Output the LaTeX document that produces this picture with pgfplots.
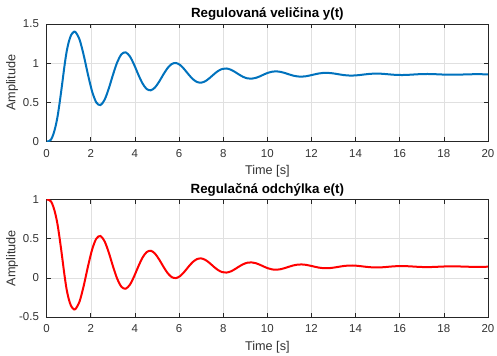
\documentclass[border=0pt]{standalone}
\usepackage{pgfplots}
\pgfplotsset{compat=1.18}
\usepackage{pgfplotstable}
\usepackage{fontspec}
\setmainfont{Liberation Sans}
\definecolor{mblue}{rgb}{0,0.447,0.741}
\definecolor{axgray}{rgb}{0.15,0.15,0.15}
\pgfplotstableread{
t y e
0.00 0.000 1.000
0.10 0.005 0.995
0.20 0.025 0.975
0.30 0.090 0.910
0.40 0.190 0.810
0.50 0.330 0.670
0.60 0.520 0.480
0.70 0.730 0.270
0.80 0.950 0.050
0.90 1.140 -0.140
1.00 1.270 -0.270
1.10 1.355 -0.355
1.20 1.393 -0.393
1.30 1.400 -0.400
1.49 1.3025 -0.3025
1.68 1.1005 -0.1005
1.87 0.857 0.143
2.06 0.6387 0.3613
2.25 0.4992 0.5008
2.44 0.4658 0.5342
2.63 0.5362 0.4638
2.82 0.6816 0.3184
3.01 0.857 0.143
3.20 1.0142 -0.0142
3.39 1.1147 -0.1147
3.58 1.1387 -0.1387
3.77 1.0880 -0.0880
3.96 0.9833 0.0167
4.15 0.857 0.143
4.34 0.7438 0.2562
4.53 0.6714 0.3286
4.72 0.6541 0.3459
4.91 0.6906 0.3094
5.10 0.7660 0.2340
5.29 0.857 0.143
5.48 0.9385 0.0615
5.67 0.9906 0.0094
5.86 1.0031 -0.0031
6.05 0.9768 0.0232
6.24 0.9225 0.0775
6.43 0.857 0.143
6.62 0.7983 0.2017
6.81 0.7608 0.2392
7.00 0.7518 0.2482
7.19 0.7707 0.2293
7.38 0.8098 0.1902
7.57 0.857 0.143
7.76 0.8993 0.1007
7.95 0.9263 0.0737
8.14 0.9328 0.0672
8.33 0.9191 0.0809
8.52 0.8910 0.1090
8.71 0.857 0.143
8.90 0.8265 0.1735
9.09 0.8071 0.1929
9.28 0.8024 0.1976
9.47 0.8122 0.1878
9.66 0.8325 0.1675
9.85 0.857 0.143
10.04 0.8789 0.1211
10.23 0.8929 0.1071
10.42 0.8963 0.1037
10.61 0.8892 0.1108
10.80 0.8746 0.1254
10.99 0.857 0.143
11.18 0.8412 0.1588
11.37 0.8311 0.1689
11.56 0.8287 0.1713
11.75 0.8338 0.1662
11.94 0.8443 0.1557
12.13 0.857 0.143
12.32 0.8684 0.1316
12.51 0.8756 0.1244
12.70 0.8774 0.1226
12.89 0.8737 0.1263
13.08 0.8662 0.1338
13.27 0.857 0.143
13.46 0.8488 0.1512
13.65 0.8436 0.1564
13.84 0.8423 0.1577
14.03 0.8450 0.1550
14.22 0.8504 0.1496
14.41 0.857 0.143
14.60 0.8629 0.1371
14.79 0.8666 0.1334
14.98 0.8676 0.1324
15.17 0.8657 0.1343
15.36 0.8618 0.1382
15.55 0.857 0.143
15.74 0.8527 0.1473
15.93 0.8501 0.1499
16.12 0.8494 0.1506
16.31 0.8508 0.1492
16.50 0.8536 0.1464
16.69 0.857 0.143
16.88 0.8601 0.1399
17.07 0.8620 0.1380
17.26 0.8625 0.1375
17.45 0.8615 0.1385
17.64 0.8595 0.1405
17.83 0.857 0.143
18.02 0.8548 0.1452
18.21 0.8534 0.1466
18.40 0.8531 0.1469
18.59 0.8538 0.1462
18.78 0.8552 0.1448
18.97 0.857 0.143
19.16 0.8586 0.1414
19.35 0.8596 0.1404
19.54 0.8598 0.1402
19.73 0.8593 0.1407
19.92 0.8583 0.1417
20.00 0.8580 0.1420
}\resp
\pgfplotsset{
  mystyle/.style={
    scale only axis,
    width=331pt, height=88.1pt,
    xmin=0, xmax=20,
    xtick={0,2,...,20},
    grid=major,
    major grid style={color=black!12, line width=0.4pt},
    axis line style={color=axgray, line width=0.5pt},
    tick style={color=axgray, line width=0.5pt},
    tick align=inside,
    major tick length=3.2pt,
    minor tick num=0,
    tick label style={font=\fontsize{8.6}{10}\selectfont, color=black!80},
    xticklabel style={yshift=-2.3pt},
    yticklabel style={xshift=-2.3pt},
    /pgf/number format/assume math mode=true,
    title style={at={(axis description cs:0.5,1)}, anchor=base, yshift=-1.1pt, inner sep=0pt,
      font=\bfseries\fontsize{10}{12}\selectfont, color=black},
    xlabel style={at={(axis description cs:0.5,0)}, anchor=base, yshift=-25pt, inner sep=0pt,
      font=\fontsize{9.5}{11}\selectfont, color=black!80},
    ylabel style={at={(axis description cs:0,0.5)}, anchor=center, yshift=26pt, inner sep=0pt,
      font=\fontsize{9.5}{11}\selectfont, color=black!80},
    xlabel={Time [s]},
    ylabel={Amplitude},
    clip=true,
  }
}
\begin{document}
\begin{tikzpicture}
\path[use as bounding box] (0,0) rectangle (372.75pt,266.25pt);
\begin{axis}[mystyle, anchor=south west, at={(35pt,160.1pt)},
  ymin=0, ymax=1.5, ytick={0,0.5,1,1.5},
  yticklabels={0,0.5,1,1.5},
  title={Regulovaná veličina y(t)}]
\addplot[color=mblue, line width=1.5pt, smooth, tension=0.5] table[x=t, y=y] {\resp};
\end{axis}
\begin{axis}[mystyle, anchor=south west, at={(35pt,28.5pt)},
  ymin=-0.5, ymax=1, ytick={-0.5,0,0.5,1},
  yticklabels={-0.5,0,0.5,1},
  title={Regulačná odchýlka e(t)}]
\addplot[color=red, line width=1.5pt, smooth, tension=0.5] table[x=t, y=e] {\resp};
\end{axis}
\end{tikzpicture}
\end{document}
